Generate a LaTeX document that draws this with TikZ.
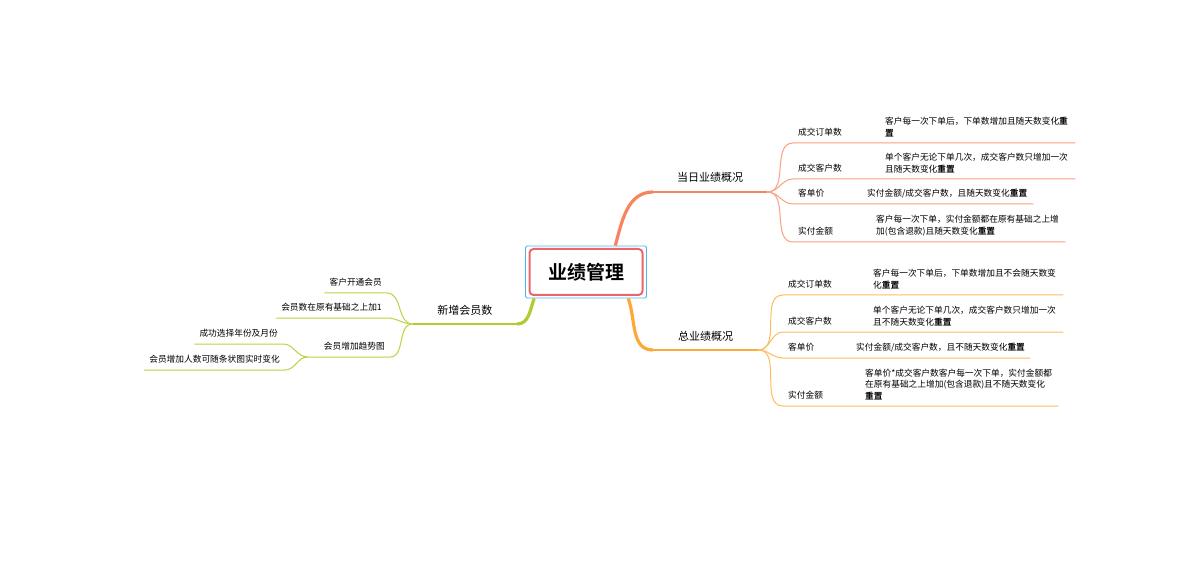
\documentclass[tikz,border=0pt]{standalone}
\usepackage{fontspec}
\setmainfont{Noto Sans CJK SC}[BoldFont={Noto Sans CJK SC Bold}]
\usepackage{tikz}
\usetikzlibrary{positioning}
\usepackage{xcolor}
\definecolor{DayOrange}{HTML}{F7845E}
\definecolor{DayLight}{HTML}{F9A080}
\definecolor{TotalOrange}{HTML}{FDA93A}
\definecolor{TotalLight}{HTML}{FDBB5C}
\definecolor{MemberGreen}{HTML}{B5C930}
\definecolor{MemberLight}{HTML}{BFD042}
\definecolor{RootRed}{HTML}{E8676A}
\definecolor{RootBlue}{HTML}{4DB6F2}

\begin{document}
\begin{tikzpicture}[
            x=1pt, y=-1pt,
            font=\fontsize{8.7}{11.6}\selectfont,
            rootframe/.style={
                rectangle, rounded corners=1.5pt,
                draw=RootBlue, line width=0.8pt,
                minimum width=121pt, minimum height=52pt
            },
            root/.style={
                rectangle, rounded corners=4pt,
                draw=RootRed, line width=2pt, fill=white,
                minimum width=113pt, minimum height=46pt,
                font=\fontsize{19}{22}\selectfont\bfseries
            },
            branch/.style={inner xsep=0pt, inner ysep=6.8pt, text depth=3pt, font=\fontsize{11}{13}\selectfont},
            leaf/.style={inner xsep=5pt, inner ysep=5.3pt, text depth=2pt},
            detail/.style={inner xsep=0pt, inner ysep=6pt, align=left, anchor=south west},
            trunkline/.style={draw=#1, line width=3.2pt},
            branchline/.style={draw=#1, line width=2pt},
            leafline/.style={draw=#1, line width=1pt}
        ]
        \useasboundingbox (0,0) rectangle (1191,569);
        
        % --- Root ---
        \node[rootframe] (rootFrame) at (586,272) {};
        \node[root] (root) at (586,272) {业绩管理};
        
        % --- Main topics ---
        \node[branch, minimum width=114pt, anchor=south west] (today) at (653,192) {当日业绩概况};
        \node[branch, minimum width=105pt, anchor=south west] (total) at (653,350) {总业绩概况};
        \node[branch, minimum width=104pt, anchor=south east] (member) at (517,324) {新增会员数};
        
        \draw[trunkline=DayOrange] (rootFrame.42) to[out=75,in=180] (today.south west);
        \draw[branchline=DayOrange] (today.south west) -- (today.south east);
        \draw[trunkline=TotalOrange] (rootFrame.-32) to[out=-70,in=180] (total.south west);
        \draw[branchline=TotalOrange] (total.south west) -- (total.south east);
        \draw[trunkline=MemberGreen] (rootFrame.-153) to[out=-110,in=0] (member.south east);
        \draw[branchline=MemberGreen] (member.south east) -- (member.south west);
        
        % --- 当日业绩概况 ---
        \node[leaf, anchor=south west] (tOrd) at (793,143) {成交订单数};
        \node[detail, text width=190pt] (tOrdD) at (885,143) {客户每一次下单后，下单数增加且随天数变化\textbf{重}\\\textbf{置}};
        \node[leaf, anchor=south west] (tCus) at (793,179) {成交客户数};
        \node[detail, text width=190pt] (tCusD) at (885,179) {单个客户无论下单几次，成交客户数只增加一次\\且随天数变化\textbf{重置}};
        \node[leaf, anchor=south west] (tPrice) at (793,204) {客单价};
        \node[detail, text width=166pt] (tPriceD) at (867,204) {实付金额/成交客户数，且随天数变化\textbf{重置}};
        \node[leaf, anchor=south west] (tPay) at (793,242) {实付金额};
        \node[detail, text width=189pt] (tPayD) at (876,242) {客户每一次下单，实付金额都在原有基础之上增\\加(包含退款)且随天数变化\textbf{重置}};
        
        \foreach \k in {tOrd, tCus, tPrice, tPay}
            \draw[leafline=DayLight] (today.south east) to[out=0,in=180] (\k.south west) -- (\k D.south east);
        
        % --- 总业绩概况 ---
        \node[leaf, anchor=south west] (sOrd) at (783,295) {成交订单数};
        \node[detail, text width=190pt] (sOrdD) at (873,295) {客户每一次下单后，下单数增加且不会随天数变\\化\textbf{重置}};
        \node[leaf, anchor=south west] (sCus) at (783,332) {成交客户数};
        \node[detail, text width=190pt] (sCusD) at (873,332) {单个客户无论下单几次，成交客户数只增加一次\\且不随天数变化\textbf{重置}};
        \node[leaf, anchor=south west] (sPrice) at (783,358) {客单价};
        \node[detail, text width=174pt] (sPriceD) at (856,358) {实付金额/成交客户数，且不随天数变化\textbf{重置}};
        \node[leaf, anchor=south west] (sPay) at (783,406) {实付金额};
        \node[detail, text width=193pt] (sPayD) at (865,406) {客单价*成交客户数客户每一次下单，实付金额都\\在原有基础之上增加(包含退款)且不随天数变化\\\textbf{重置}};
        
        \foreach \k in {sOrd, sCus, sPrice, sPay}
            \draw[leafline=TotalLight] (total.south east) to[out=0,in=180] (\k.south west) -- (\k D.south east);
        
        % --- 新增会员数 ---
        \node[leaf, anchor=south east] (mOpen) at (387,293) {客户开通会员};
        \node[leaf, anchor=south east] (mAdd) at (387,318) {会员数在原有基础之上加1};
        \node[leaf, anchor=south east, text width=72pt, align=right] (mTrend) at (390,357) {会员增加趋势图};
        \node[leaf, anchor=south east] (mYear) at (283,344) {成功选择年份及月份};
        \node[leaf, anchor=south east] (mBar) at (285,370) {会员增加人数可随条状图实时变化};
        
        \foreach \k in {mOpen, mAdd, mTrend}
            \draw[leafline=MemberLight] (member.south west) to[out=180,in=0] (\k.south east) -- (\k.south west);
        \foreach \k in {mYear, mBar}
            \draw[leafline=MemberLight] (mTrend.south west) to[out=180,in=0] (\k.south east) -- (\k.south west);
        
        \end{tikzpicture}
\end{document}
